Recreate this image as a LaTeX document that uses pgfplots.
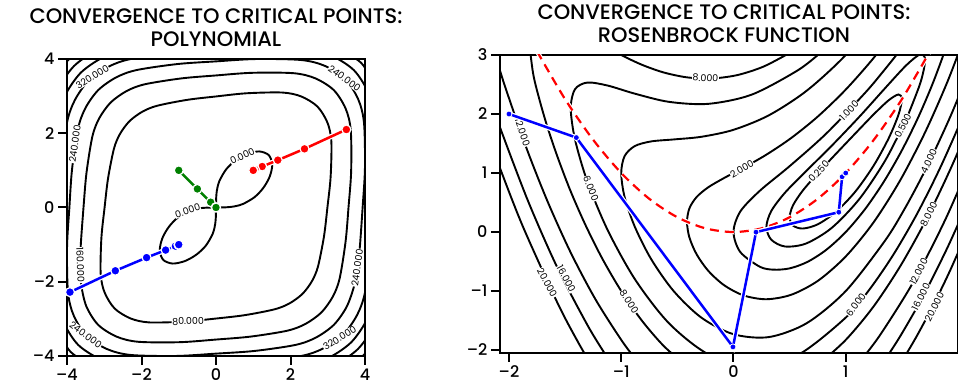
\documentclass[border=0pt]{standalone}
\usepackage{pgfplots}
\pgfplotsset{compat=1.18}
\usepackage{fontspec}
\setmainfont{Poppins}
\newfontfamily\medfont{Poppins Medium}
\newcommand\titlefont{\medfont\fontsize{21}{23}\selectfont}
\newcommand\tickfont{\medfont\fontsize{16}{18}\selectfont}
\newcommand\clfont{\fontsize{9.5}{10}\selectfont}
\pgfplotsset{
 xkcdaxis/.style={
   scale only axis,
   axis line style={line width=1.8pt},
   tick style={line width=2pt, black},
   tick align=outside,
   major tick length=9pt,
   tick pos=left,
   ticklabel style={font=\tickfont},
   title style={font=\titlefont, align=center, at={(0.5,1)}, anchor=south, yshift=6pt, inner sep=0pt},
 },
 ct/.style={black, line width=1.9pt, smooth, no markers},
}
\tikzset{cl/.style={font=\clfont, fill=white, inner sep=0.5pt, text=black}}
\begin{document}
\begin{tikzpicture}[x=1pt,y=1pt]
\useasboundingbox (0,0) rectangle (958,385);
% ---------------- left: polynomial ----------------
\begin{axis}[xkcdaxis, at={(67pt,29pt)}, anchor=south west, width=298pt, height=297pt,
  xmin=-4, xmax=4, ymin=-4, ymax=4,
  xtick={-4,-2,0,2,4}, ytick={-4,-2,0,2,4},
  xticklabels={–4,–2,0,2,4}, yticklabels={–4,–2,0,2,4},
  title={CONVERGENCE TO CRITICAL POINTS:\\POLYNOMIAL}]
% level 0
\addplot[ct] coordinates {(0,0) (0.264,0.005) (0.374,0.013) (0.529,0.037) (0.726,0.096) (1.033,0.277) (1.269,0.526) (1.442,0.832) (1.510,1.159) (1.414,1.414) (1.159,1.510) (0.832,1.442) (0.526,1.269) (0.277,1.033) (0.096,0.726) (0.037,0.529) (0.013,0.374) (0.005,0.264) (0,0)};
\addplot[ct] coordinates {(0,0) (-0.264,-0.005) (-0.374,-0.013) (-0.529,-0.037) (-0.726,-0.096) (-1.033,-0.277) (-1.269,-0.526) (-1.442,-0.832) (-1.510,-1.159) (-1.414,-1.414) (-1.159,-1.510) (-0.832,-1.442) (-0.526,-1.269) (-0.277,-1.033) (-0.096,-0.726) (-0.037,-0.529) (-0.013,-0.374) (-0.005,-0.264) (0,0)};
% level 80
\addplot[ct] coordinates {(-0.825,-3.077) (0,-2.991) (0.777,-2.899) (1.582,-2.740) (1.979,-2.579) (2.324,-2.324) (2.579,-1.979) (2.740,-1.582) (2.899,-0.777) (2.991,0) (3.077,0.825) (3.096,1.788) (2.989,2.293) (2.721,2.721) (2.293,2.989) (1.788,3.096) (0.825,3.077) (0,2.991) (-0.777,2.899) (-1.582,2.740) (-1.979,2.579) (-2.324,2.324) (-2.579,1.979) (-2.740,1.582) (-2.899,0.777) (-2.991,0) (-3.077,-0.825) (-3.096,-1.788) (-2.989,-2.293) (-2.721,-2.721) (-2.293,-2.989) (-1.788,-3.096) (-0.825,-3.077)};
% level 160
\addplot[ct] coordinates {(-3.647,-1.510) (-3.617,-2.089) (-3.478,-2.669) (-3.162,-3.162) (-2.669,-3.478) (-2.089,-3.617) (-0.972,-3.628) (0,-3.557) (0.932,-3.477) (1.916,-3.318) (2.405,-3.134) (2.828,-2.828) (3.134,-2.405) (3.318,-1.916) (3.477,-0.932) (3.557,0) (3.628,0.972) (3.617,2.089) (3.478,2.669) (3.162,3.162) (2.669,3.478) (2.089,3.617) (0.972,3.628) (0,3.557) (-0.932,3.477) (-1.916,3.318) (-2.405,3.134) (-2.828,2.828) (-3.134,2.405) (-3.318,1.916) (-3.477,0.932) (-3.557,0) (-3.628,-0.972) (-3.647,-1.510)};
% level 240
\addplot[ct] coordinates {(3.806,-1.577) (3.864,-1.035) (3.936,0) (3.999,1.071) (3.972,2.293) (3.813,2.926) (3.464,3.464) (2.926,3.813) (2.293,3.972) (1.071,3.999) (0,3.936) (-1.035,3.864) (-2.137,3.701) (-2.687,3.501) (-3.162,3.162) (-3.501,2.687) (-3.701,2.137) (-3.864,1.035) (-3.936,0) (-3.999,-1.071) (-3.972,-2.293) (-3.813,-2.926) (-3.464,-3.464) (-2.926,-3.813) (-2.293,-3.972) (-1.071,-3.999) (0,-3.936) (1.035,-3.864) (2.137,-3.701) (2.687,-3.501) (3.162,-3.162) (3.501,-2.687) (3.701,-2.137) (3.806,-1.577)};
% level 320
\addplot[ct] coordinates {(4.230,0) (4.288,1.149) (4.248,2.453) (4.074,3.126) (3.700,3.700) (3.126,4.074) (2.453,4.248) (1.149,4.288) (0,4.230) (-1.115,4.161) (-2.307,3.996) (-2.903,3.784) (-3.419,3.419) (-3.784,2.903) (-3.996,2.307) (-4.161,1.115) (-4.230,0) (-4.288,-1.149) (-4.248,-2.453) (-4.074,-3.126) (-3.700,-3.700) (-3.126,-4.074) (-2.453,-4.248) (-1.149,-4.288) (0,-4.230) (1.115,-4.161) (2.307,-3.996) (2.903,-3.784) (3.419,-3.419) (3.784,-2.903) (3.996,-2.307) (4.161,-1.115) (4.230,0)};
% level 400
\addplot[ct] coordinates {(-2.447,4.238) (-3.082,4.017) (-3.630,3.630) (-4.017,3.082) (-4.238,2.447)};
\addplot[ct] coordinates {(2.447,-4.238) (3.082,-4.017) (3.630,-3.630) (4.017,-3.082) (4.238,-2.447)};
\addplot[ct] coordinates {(4.291,3.293) (3.896,3.896) (3.293,4.291)};
\addplot[ct] coordinates {(-4.291,-3.293) (-3.896,-3.896) (-3.293,-4.291)};
% level 480
\addplot[ct] coordinates {(-2.567,4.446) (-3.235,4.216) (-3.811,3.811) (-4.216,3.235) (-4.446,2.567)};
\addplot[ct] coordinates {(2.567,-4.446) (3.235,-4.216) (3.811,-3.811) (4.216,-3.235) (4.446,-2.567)};
% level 560
\addplot[ct] coordinates {(-3.370,4.392) (-3.970,3.970) (-4.392,3.370)};
\addplot[ct] coordinates {(3.370,-4.392) (3.970,-3.970) (4.392,-3.370)};
% labels
\node[cl, rotate=25] at (axis cs:0.71,1.39) {0.000};
\node[cl, rotate=18] at (axis cs:-0.76,-0.09) {0.000};
\node[cl, rotate=2] at (axis cs:-0.75,-3.06) {80.000};
\node[cl, rotate=-88] at (axis cs:-3.64,-1.55) {160.000};
\node[cl, rotate=82] at (axis cs:-3.79,1.71) {240.000};
\node[cl, rotate=82] at (axis cs:3.79,-1.62) {240.000};
\node[cl, rotate=-36] at (axis cs:3.45,3.48) {240.000};
\node[cl, rotate=-36] at (axis cs:-3.5,-3.43) {240.000};
\node[cl, rotate=32] at (axis cs:-3.32,3.52) {320.000};
\node[cl, rotate=32] at (axis cs:3.32,-3.52) {320.000};
% trajectories
\addplot[white, line width=5pt, no markers] coordinates {(3.5,2.1) (2.376,1.580) (1.659,1.275) (1.240,1.104) (1.048,1.023) (1.003,1.001) (1,1)};
\addplot[red, line width=2.5pt, mark=*, mark size=4.5pt, mark options={fill=red, draw=white, line width=1.2pt}] coordinates {(3.5,2.1) (2.376,1.580) (1.659,1.275) (1.240,1.104) (1.048,1.023) (1.003,1.001) (1,1)};
\addplot[white, line width=5pt, no markers] coordinates {(-1,1) (-0.5,0.5) (-0.143,0.143) (-0.0055,0.0055) (0,0)};
\addplot[green!50!black, line width=2.5pt, mark=*, mark size=4.5pt, mark options={fill=green!50!black, draw=white, line width=1.2pt}] coordinates {(-1,1) (-0.5,0.5) (-0.143,0.143) (-0.0055,0.0055) (0,0)};
\addplot[white, line width=5pt, no markers] coordinates {(-3.92,-2.28) (-2.702,-1.704) (-1.863,-1.350) (-1.352,-1.147) (-1.091,-1.041) (-1.008,-1.003) (-1,-1)};
\addplot[blue, line width=2.5pt, mark=*, mark size=4.5pt, mark options={fill=blue, draw=white, line width=1.2pt}] coordinates {(-3.92,-2.28) (-2.702,-1.704) (-1.863,-1.350) (-1.352,-1.147) (-1.091,-1.041) (-1.008,-1.003) (-1,-1)};
\end{axis}
% ---------------- right: Rosenbrock ----------------
\begin{axis}[xkcdaxis, at={(500pt,32pt)}, anchor=south west, width=458pt, height=298pt,
  xmin=-2.08, xmax=2, ymin=-2.05, ymax=3,
  xtick={-2,-1,0,1}, ytick={-2,-1,0,1,2,3},
  xticklabels={–2,–1,0,1}, yticklabels={–2,–1,0,1,2,3},
  title={CONVERGENCE TO CRITICAL POINTS:\\ROSENBROCK FUNCTION}, title style={xshift=-5pt}]
% 0.25
\addplot[ct] coordinates {(0.750,0.996) (0.913,1.326) (1.087,1.674) (1.250,1.996) (1.383,2.234) (1.470,2.331) (1.500,2.250) (1.470,1.989) (1.383,1.591) (1.250,1.130) (1.087,0.689) (0.913,0.342) (0.750,0.130) (0.617,0.059) (0.530,0.110) (0.500,0.250) (0.530,0.452) (0.617,0.702) (0.750,0.996)};
% 0.5
\addplot[ct] coordinates {(1.542,1.922) (1.354,1.220) (1.123,0.564) (0.877,0.073) (0.646,-0.195) (0.458,-0.245) (0.336,-0.129) (0.293,0.086) (0.336,0.354) (0.458,0.665) (0.646,1.030) (0.877,1.466) (1.123,1.957) (1.354,2.445) (1.542,2.831) (1.665,3.012) (1.707,2.914) (1.665,2.529) (1.542,1.922)};
% 1
\addplot[ct] coordinates {(1.940,3.420) (1.866,2.982) (1.766,2.476) (1.643,1.933) (1.500,1.384) (1.342,0.861) (1.174,0.393) (1,0) (0.826,-0.302) (0.658,-0.507) (0.500,-0.616) (0.357,-0.638) (0.234,-0.588) (0.060,-0.338) (0,0) (0.060,0.346) (0.234,0.698) (0.500,1.116) (0.826,1.668) (1.174,2.362) (1.342,2.741) (1.500,3.116)};
% 2
\addplot[ct] coordinates {(2.083,3.434) (1.909,2.561) (1.707,1.690) (1.484,0.873) (1.246,0.159) (1,-0.414) (0.754,-0.824) (0.516,-1.062) (0.293,-1.139) (0.091,-1.075) (-0.083,-0.902) (-0.225,-0.657) (-0.329,-0.376) (-0.393,-0.091) (-0.414,0.172) (-0.393,0.400) (-0.329,0.592) (-0.225,0.758) (-0.083,0.916) (0.091,1.092) (0.293,1.311) (0.516,1.596) (0.754,1.962) (1,2.414) (1.246,2.944) (1.484,3.530)};
% 4
\addplot[ct] coordinates {(2.286,3.691) (2,2.268) (1.845,1.592) (1.684,0.957) (1.518,0.371) (1.347,-0.154) (1,-1) (0.653,-1.544) (0.316,-1.780) (0,-1.732) (-0.286,-1.451) (-0.532,-1.003) (-0.732,-0.464) (-0.879,0.089) (-0.970,0.593) (-1,1) (-0.970,1.287) (-0.879,1.457) (-0.732,1.536) (-0.532,1.569) (-0.286,1.614) (0,1.732) (0.316,1.979) (0.653,2.396) (1,3) (1.347,3.785)};
% 6
\addplot[ct] coordinates {(2.225,2.828) (2.035,1.922) (1.838,1.076) (1.634,0.304) (1.425,-0.381) (1.214,-0.967) (1,-1.450) (0.575,-2.082) (0.162,-2.276) (-0.225,-2.071) (-0.575,-1.546) (-0.876,-0.806) (-1.121,0.033) (-1.302,0.857) (-1.412,1.569) (-1.450,2.101) (-1.412,2.420) (-1.302,2.533) (-1.121,2.482) (-0.876,2.343) (-0.575,2.206) (-0.225,2.172) (0.162,2.328) (0.575,2.743) (0.787,3.059)};
% 8
\addplot[ct] coordinates {(-1.828,3.343) (-1.786,2.697) (-1.732,2.268) (-1.658,1.781) (-1.563,1.249) (-1.450,0.687) (-1.317,0.112) (-1.167,-0.457) (-1,-1) (-0.818,-1.497) (-0.622,-1.930) (-0.414,-2.278)};
\addplot[ct] coordinates {(-1.167,3.179) (-1,3.0) (-0.818,2.836) (-0.622,2.704) (-0.414,2.621) (-0.195,2.602) (0.033,2.659) (0.268,2.804) (0.509,3.044)};
\addplot[ct] coordinates {(2.195,2.256) (1.967,1.213) (1.732,0.268) (1.491,-0.562) (1.247,-1.264) (1,-1.828) (0.754,-2.250)};
% 12
\addplot[ct] coordinates {(-2.255,3.900) (-2.087,2.781) (-2,2.268) (-1.838,1.390) (-1.654,0.508) (-1.450,-0.349) (-1.227,-1.149) (-0.987,-1.864) (-0.836,-2.239)};
\addplot[ct] coordinates {(2.185,1.518) (1.897,0.251) (1.602,-0.847) (1.302,-1.756) (1.121,-2.206)};
% 16
\addplot[ct] coordinates {(-2.152,2.168) (-2.064,1.690) (-1.828,0.515) (-1.571,-0.596) (-1.294,-1.601) (-1.120,-2.138)};
\addplot[ct] coordinates {(2.035,0.279) (1.900,-0.288) (1.695,-1.068) (1.488,-1.757) (1.349,-2.166)};
% 20
\addplot[ct] coordinates {(-2.162,1.513) (-2.079,1.077) (-1.875,0.088) (-1.565,-1.213) (-1.370,-1.916) (-1.236,-2.345)};
\addplot[ct] coordinates {(2.158,0.335) (1.930,-0.650) (1.777,-1.248) (1.623,-1.796) (1.467,-2.295)};
% labels
\node[cl, rotate=-3] at (axis cs:-0.25,2.61) {8.000};
\node[cl, rotate=-71] at (axis cs:-1.88,1.69) {12.000};
\node[cl, rotate=-68] at (axis cs:-1.27,0.74) {6.000};
\node[cl, rotate=-62] at (axis cs:-1.66,-0.86) {20.000};
\node[cl, rotate=-62] at (axis cs:-1.49,-0.79) {16.000};
\node[cl, rotate=-57] at (axis cs:-0.93,-1.18) {8.000};
\node[cl, rotate=29] at (axis cs:0.075,1.07) {2.000};
\node[cl, rotate=46] at (axis cs:1.03,2.06) {1.000};
\node[cl, rotate=47] at (axis cs:0.76,1.03) {0.250};
\node[cl, rotate=63] at (axis cs:1.51,1.80) {0.500};
\node[cl, rotate=65] at (axis cs:1.74,1.20) {4.000};
\node[cl, rotate=63] at (axis cs:1.74,0.30) {8.000};
\node[cl, rotate=63] at (axis cs:1.65,-0.67) {12.000};
\node[cl, rotate=63] at (axis cs:1.67,-1.10) {16.000};
\node[cl, rotate=63] at (axis cs:1.79,-1.27) {20.000};
\node[cl, rotate=53] at (axis cs:1.09,-1.23) {6.000};
% parabola
\addplot[white, line width=4.5pt, smooth, dash pattern=on 9pt off 6pt] coordinates {(-1.75,3.0625) (-1.5,2.25) (-1.25,1.5625) (-1,1) (-0.75,0.5625) (-0.5,0.25) (-0.25,0.0625) (0,0) (0.25,0.0625) (0.5,0.25) (0.75,0.5625) (1,1) (1.25,1.5625) (1.5,2.25) (1.75,3.0625)};
\addplot[red, line width=2.2pt, smooth, dash pattern=on 9pt off 6pt] coordinates {(-1.75,3.0625) (-1.5,2.25) (-1.25,1.5625) (-1,1) (-0.75,0.5625) (-0.5,0.25) (-0.25,0.0625) (0,0) (0.25,0.0625) (0.5,0.25) (0.75,0.5625) (1,1) (1.25,1.5625) (1.5,2.25) (1.75,3.0625)};
% Newton path
\addplot[white, line width=5pt, no markers] coordinates {(-2,2) (-1.4,1.6) (-0.0047,-1.947) (0.2006,-0.0019) (0.9379,0.336) (0.9677,0.9355) (0.9999,0.9988) (1,1)};
\addplot[blue, line width=2.5pt, mark=*, mark size=3pt, mark options={fill=blue, draw=white, line width=0.8pt}] coordinates {(-2,2) (-1.4,1.6) (-0.0047,-1.947) (0.2006,-0.0019) (0.9379,0.336) (0.9677,0.9355) (0.9999,0.9988) (1,1)};
\end{axis}
\end{tikzpicture}
\end{document}
